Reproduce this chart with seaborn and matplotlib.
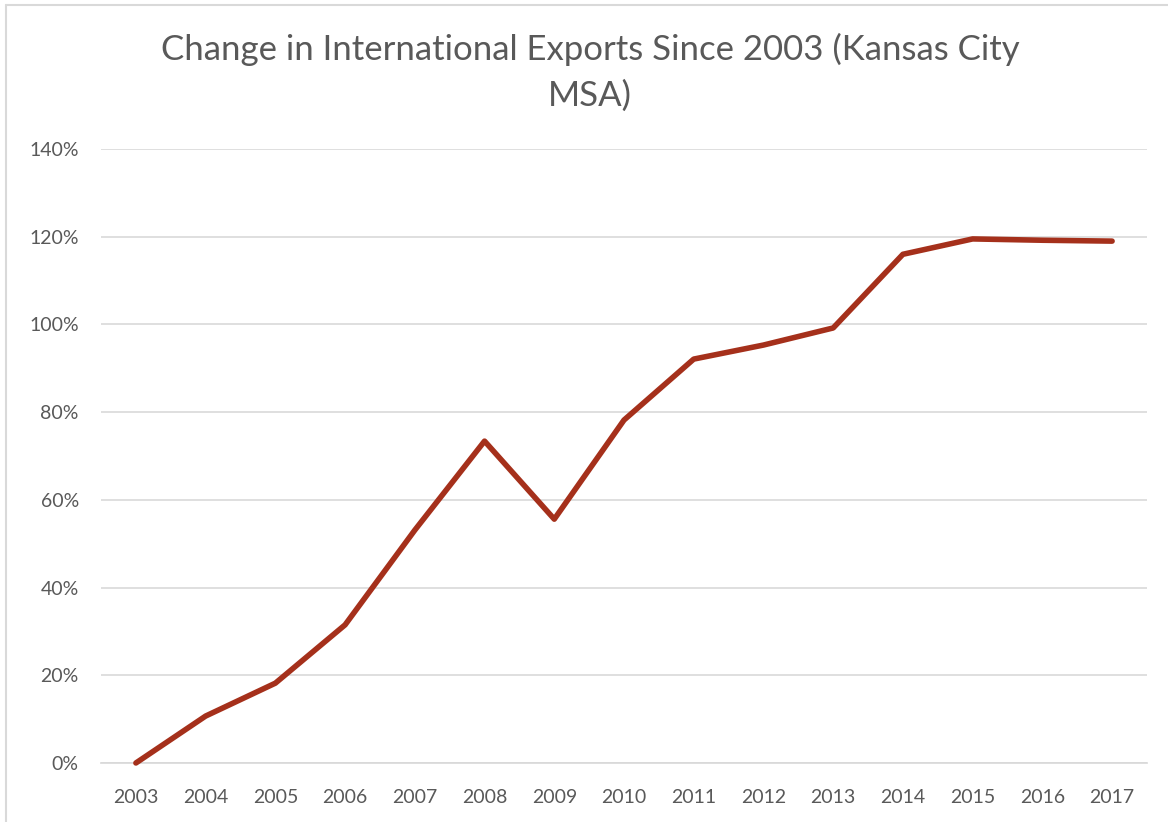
import matplotlib
matplotlib.use("Agg")
import matplotlib.pyplot as plt
import seaborn as sns
import pandas as pd
from matplotlib.ticker import PercentFormatter
from matplotlib.lines import Line2D

years = [str(y) for y in range(2003, 2018)]
change = [0.0, 0.107, 0.182, 0.315, 0.531, 0.734, 0.556, 0.782, 0.921,
          0.953, 0.992, 1.160, 1.195, 1.192, 1.190]

df = pd.DataFrame({"year": years, "change": change})

sns.set_theme(style="white")
plt.rcParams['font.family'] = ['Lato', 'DejaVu Sans']

fig = plt.figure(figsize=(11.68, 8.22), dpi=100)
ax = fig.add_axes([0.0865, 0.0718, 0.8955, 0.7469])

sns.lineplot(data=df, x="year", y="change", ax=ax, color="#A5301B",
             linewidth=4, sort=False)
for ln in ax.lines:
    ln.set_clip_on(False)
    ln.set_zorder(5)
    ln.set_solid_capstyle("round")
    ln.set_solid_joinstyle("round")

ax.set_xlim(-0.5, len(years) - 0.5)
ax.set_ylim(0, 1.4)
ax.set_yticks([i * 0.2 for i in range(8)])
ax.yaxis.set_major_formatter(PercentFormatter(1.0, decimals=0))
ax.grid(axis="y", color="#D9D9D9", linewidth=1.2)
ax.set_axisbelow(True)
for s in ["top", "right", "left"]:
    ax.spines[s].set_visible(False)
ax.spines["bottom"].set_color("#D9D9D9")
ax.tick_params(axis="both", length=0, labelsize=14, labelcolor="#595959")
ax.tick_params(axis="x", pad=19)
ax.tick_params(axis="y", pad=16)
ax.set_xlabel("")
ax.set_ylabel("")

fig.text(0.505, 0.94, "Change in International Exports Since 2003 (Kansas City",
         ha="center", va="center", fontsize=25, color="#595959")
fig.text(0.505, 0.883, "MSA)", ha="center", va="center", fontsize=25, color="#595959")

# thin frame on the left and top edge
fig.add_artist(Line2D([6 / 1168, 6 / 1168], [0, 1 - 5 / 822], transform=fig.transFigure,
                      color="#D9D9D9", linewidth=1.5))
fig.add_artist(Line2D([6 / 1168, 1], [1 - 5 / 822, 1 - 5 / 822], transform=fig.transFigure,
                      color="#D9D9D9", linewidth=1.5))

fig.savefig("out.png", dpi=100)
